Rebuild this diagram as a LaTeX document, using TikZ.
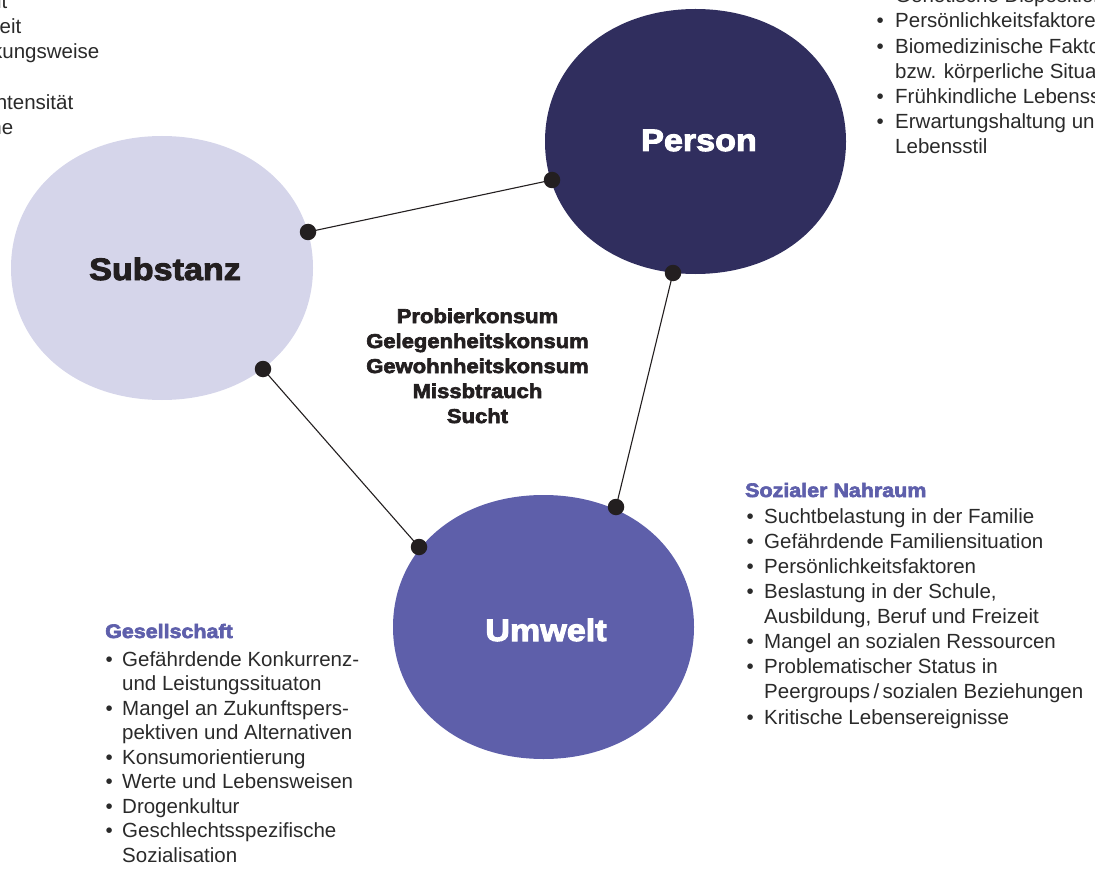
\documentclass[tikz,border=0pt]{standalone}
\usepackage{fontspec}
\setmainfont{Liberation Sans}
\newfontfamily\heavy{Liberation Sans}[FakeStretch=1.1,FakeBold=3.2]
\definecolor{cSub}{HTML}{D5D5EA}
\definecolor{cPer}{HTML}{302E5E}
\definecolor{cUmw}{HTML}{5E5FAA}
\definecolor{cHead}{HTML}{5E5FAB}
\definecolor{cTxt}{HTML}{2A2A2A}
\definecolor{cDot}{HTML}{231F20}
% blob: cx, cy, a, b, k, colour
\newcommand\myblob[6]{%
  \fill[#6,shift={(#1,#2)}] (#3,0)
    .. controls (#3,{#5*#4}) and ({#5*#3},#4) .. (0,#4)
    .. controls ({-#5*#3},#4) and (-#3,{#5*#4}) .. (-#3,0)
    .. controls (-#3,{-#5*#4}) and ({-#5*#3},-#4) .. (0,-#4)
    .. controls ({#5*#3},-#4) and (#3,{-#5*#4}) .. (#3,0) -- cycle;}
\begin{document}
\begin{tikzpicture}[x=1pt,y=-1pt,
  body/.style={anchor=base west,inner sep=0pt,text=cTxt,font=\fontsize{20.5}{25}\selectfont},
  frag/.style={anchor=base east,inner sep=0pt,text=cTxt,font=\fontsize{20.5}{25}\selectfont},
  head/.style={anchor=base west,inner sep=0pt,text=cHead,font=\heavy\bfseries\fontsize{19.5}{24}\selectfont},
  title/.style={anchor=base,inner sep=0pt,font=\heavy\bfseries\fontsize{31}{36}\selectfont},
  mid/.style={anchor=base,inner sep=0pt,text=cDot,font=\heavy\bfseries\fontsize{20}{25}\selectfont},
  dot/.style={circle,fill=cDot,inner sep=0pt,minimum size=16.5pt},
  link/.style={draw=cDot,line width=1.1pt}]
\useasboundingbox (0,0) rectangle (1095,869);
\clip (0,0) rectangle (1095,869);

% blobs
\myblob{162}{268}{151}{132}{0.58}{cSub}
\myblob{695.5}{141.5}{150.5}{132.5}{0.58}{cPer}
\myblob{543.5}{627}{150.5}{132}{0.58}{cUmw}

% titles
\node[title,text=cDot] (substanz) at (165,280) {Substanz};
\node[title,text=white] (person) at (699,151) {Person};
\node[title,text=white] (umwelt) at (546,641) {Umwelt};

% connectors with end dots
\coordinate (d1) at (308,232);
\coordinate (d2) at (552,180);
\coordinate (d3) at (673,273);
\coordinate (d4) at (616,507);
\coordinate (d5) at (419,547);
\coordinate (d6) at (263,369);
\draw[link] (d1) -- (d2);
\draw[link] (d3) -- (d4);
\draw[link] (d5) -- (d6);
\foreach \n in {d1,d2,d3,d4,d5,d6} \node[dot] (n\n) at (\n) {};

% centre text
\node[mid] (m1) at (477.5,323) {Probierkonsum};
\node[mid] (m2) at (477.5,348) {Gelegenheitskonsum};
\node[mid] (m3) at (477.5,373) {Gewohnheitskonsum};
\node[mid] (m4) at (477.5,398) {Missbtrauch};
\node[mid] (m5) at (477.5,423) {Sucht};

% Sozialer Nahraum
\node[head] (sh) at (745,497) {Sozialer Nahraum};
\foreach \y/\b/\t [count=\i] in {
  523/1/{Suchtbelastung in der Familie},
  548.1/1/{Gefährdende Familiensituation},
  573.2/1/{Persönlichkeitsfaktoren},
  598.4/1/{Beslastung in der Schule,},
  623.5/0/{Ausbildung, Beruf und Freizeit},
  648.6/1/{Mangel an sozialen Ressourcen},
  673.7/1/{Problematischer Status in},
  698.9/0/{Peergroups\,/\,sozialen Beziehungen},
  724/1/{Kritische Lebensereignisse}} {
  \node[body] (s\i) at (764,\y) {\t};
  \ifnum\b=1 \node[body] (sb\i) at (746.5,\y) {\textbullet}; \fi
}

% Gesellschaft
\node[head] (gh) at (105,638) {Gesellschaft};
\foreach \y/\b/\t [count=\i] in {
  666/1/{Gefährdende Konkurrenz-},
  690.5/0/{und Leistungssituaton},
  715/1/{Mangel an Zukunftspers-},
  739.5/0/{pektiven und Alternativen},
  764/1/{Konsumorientierung},
  788.5/1/{Werte und Lebensweisen},
  813/1/{Drogenkultur},
  837.5/1/{Geschlechtsspezifische},
  862/0/{Sozialisation}} {
  \node[body] (g\i) at (122,\y) {\t};
  \ifnum\b=1 \node[body] (gb\i) at (105.5,\y) {\textbullet}; \fi
}

% Person list (cut by the right and top edges, as in the reference)
\foreach \y/\b/\t [count=\i] in {
  3/0/{Genetische Disposition},
  28/1/{Persönlichkeitsfaktoren},
  53.1/1/{Biomedizinische Faktoren},
  78.2/0/{bzw. körperliche Situation},
  103.3/1/{Frühkindliche Lebenss},
  128.4/1/{Erwartungshaltung und},
  153.5/0/{Lebensstil}} {
  \node[body] (p\i) at (895,\y) {\t};
  \ifnum\b=1 \node[body] (pb\i) at (876.5,\y) {\textbullet}; \fi
}

% Substanz list fragments (cut by the left edge, as in the reference)
\node[frag] (f1) at (7.5,8.5) {it};
\node[frag] (f2) at (21.5,33.8) {eit};
\node[frag] (f3) at (99.5,59) {kungsweise};
\node[frag] (f4) at (73.5,109.7) {ntensität};
\node[frag] (f5) at (13.5,135) {ne};
\end{tikzpicture}
\end{document}
